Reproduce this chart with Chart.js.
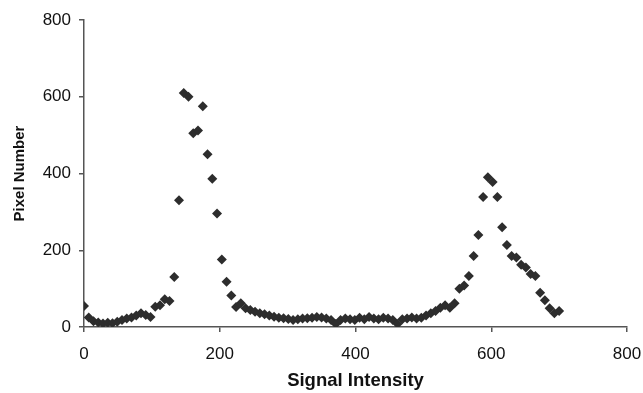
<!DOCTYPE html>
<html>
<head>
<meta charset="utf-8">
<script src="https://cdn.jsdelivr.net/npm/chart.js@4"></script>
<style>
	body { margin: 0; background: #fff; }
	#wrap { width: 643px; height: 393px; }
</style>
</head>
<body>
<div id="wrap"><canvas id="histChart"></canvas></div>
<script>
	// signal intensity (x) and pixel count (y)
	var signalIntensity = [
		0, 7, 14, 21, 28, 35, 42, 49, 56, 63, 70, 77, 84, 91, 98,
		105, 112, 119, 126, 133, 140, 147, 154, 161, 168, 175, 182, 189, 196,
		203, 210, 217, 224, 231, 238, 245, 252, 259, 266, 273, 280, 287, 294,
		301, 308, 315, 322, 329, 336, 343, 350, 357, 364, 371, 378, 385, 392,
		399, 406, 413, 420, 427, 434, 441, 448, 455, 462, 469, 476, 483, 490,
		497, 504, 511, 518, 525, 532, 539, 546, 553, 560, 567, 574, 581, 588,
		595, 602, 609, 616, 623, 630, 637, 644, 651, 658, 665, 672, 679, 686,
		693, 700
	];
	var pixelNumber = [
		55, 25, 15, 12, 9, 11, 10, 14, 18, 22, 25, 30, 36, 31, 26,
		53, 57, 72, 68, 130, 330, 610, 600, 505, 512, 575, 450, 386, 296,
		176, 118, 82, 52, 62, 49, 44, 40, 36, 33, 30, 27, 24, 23,
		21, 18, 20, 22, 23, 24, 26, 25, 22, 18, 8, 18, 22, 20,
		18, 24, 20, 26, 22, 20, 24, 22, 18, 8, 20, 22, 25, 22,
		24, 30, 36, 42, 50, 57, 50, 62, 100, 108, 133, 185, 240, 339,
		390, 378, 339, 260, 214, 185, 181, 162, 155, 138, 133, 89, 70, 49,
		36, 42
	];
	var axisTicks = [0, 200, 400, 600, 800];

	var points = [];
	for (var i = 0; i < signalIntensity.length; i++) {
		points.push({ x: signalIntensity[i], y: pixelNumber[i] });
	}

	var axisColor = '#555';
	var textColor = '#111';

	var ctx = document.getElementById('histChart').getContext('2d');
	var chart = new Chart(ctx, {
		type: 'scatter',
		data: {
			datasets: [{
				data: points,
				pointStyle: 'rectRot',
				pointRadius: 5,
				pointBackgroundColor: '#2d2d2d',
				pointBorderColor: '#2d2d2d',
				pointBorderWidth: 0
			}]
		},
		options: {
			responsive: true,
			maintainAspectRatio: false,
			animation: false,
			layout: { padding: { top: 20, right: 16, bottom: 0, left: 0 } },
			plugins: { legend: { display: false }, tooltip: { enabled: false } },
			scales: {
				x: {
					type: 'linear',
					min: axisTicks[0],
					max: axisTicks[axisTicks.length - 1],
					afterBuildTicks: function (axis) { axis.ticks = axisTicks.map(v => ({ value: v })); },
					afterFit: function (axis) {
						axis.height = 66;
						axis.paddingLeft = 0;
						axis.paddingRight = 0;
					},
					grid: { drawOnChartArea: false, drawTicks: true, tickLength: 5, color: axisColor, lineWidth: 1.5 },
					border: { display: true, color: axisColor, width: 1.5 },
					ticks: { color: textColor, font: { family: 'Liberation Sans', size: 17 }, padding: 12, maxRotation: 0 },
					title: {
						display: true,
						text: 'Signal Intensity',
						color: textColor,
						font: { family: 'Liberation Sans', size: 18.5, weight: 'bold' },
						padding: { top: 0, bottom: 1 }
					}
				},
				y: {
					min: axisTicks[0],
					max: axisTicks[axisTicks.length - 1],
					afterBuildTicks: function (axis) { axis.ticks = axisTicks.map(v => ({ value: v })); },
					afterFit: function (axis) {
						axis.width = 84;
						axis.paddingTop = 0;
						axis.paddingBottom = 0;
					},
					grid: { drawOnChartArea: false, drawTicks: true, tickLength: 5, color: axisColor, lineWidth: 1.5 },
					border: { display: true, color: axisColor, width: 1.5 },
					ticks: { color: textColor, font: { family: 'Liberation Sans', size: 17 }, padding: 8 },
					title: {
						display: true,
						text: 'Pixel Number',
						color: textColor,
						font: { family: 'Liberation Sans', size: 15, weight: 'bold' },
						padding: { top: 11, bottom: 0 }
					}
				}
			}
		}
	});
</script>
</body>
</html>
